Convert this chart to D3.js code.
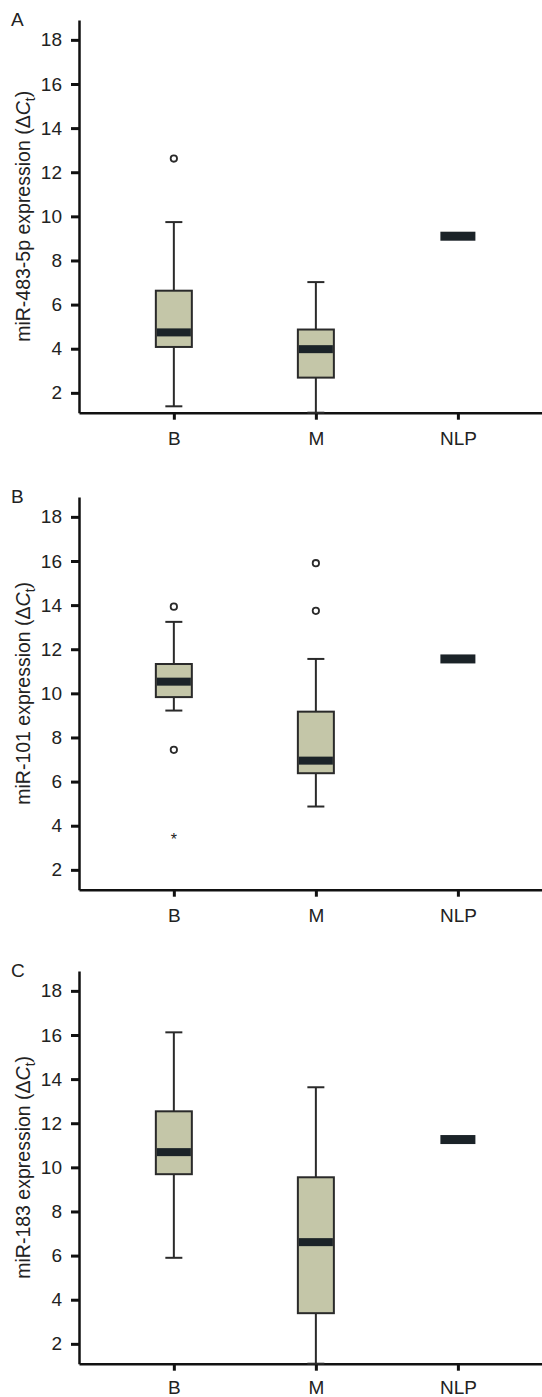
<!DOCTYPE html>
<html>
<head>
<meta charset="utf-8">
<script src="https://cdn.jsdelivr.net/npm/d3@7"></script>
<style>
  body { margin: 0; background: #fff; }
  text { font-family: "Liberation Sans", Arial, sans-serif; fill: #222; }
</style>
</head>
<body>
<svg width="542" height="1397"></svg>
<script>
// groups on the x axis and y tick values (shared by all three panels)
const groups = ["B", "M", "NLP"];
const yTicks = [2, 4, 6, 8, 10, 12, 14, 16, 18];
const panelLetters = ["A", "B", "C"];
const mirNames = ["miR-483-5p", "miR-101", "miR-183"];

// panel A: miR-483-5p
const lo483 = [1.39, 1.1, null];
const q1_483 = [4.08, 2.69, null];
const med483 = [4.74, 3.98, 9.1];
const q3_483 = [6.63, 4.87, null];
const hi483 = [9.74, 7.02, null];
const out483 = [[12.62], [], []];
const ext483 = [[], [], []];

// panel B: miR-101
const lo101 = [9.22, 4.87, null];
const q1_101 = [9.83, 6.38, null];
const med101 = [10.53, 6.95, 11.56];
const q3_101 = [11.33, 9.17, null];
const hi101 = [13.24, 11.56, null];
const out101 = [[13.93, 7.44], [15.9, 13.74], []];
const ext101 = [[3.54], [], []];

// panel C: miR-183
const lo183 = [5.9, 1.1, null];
const q1_183 = [9.69, 3.39, null];
const med183 = [10.69, 6.61, 11.26];
const q3_183 = [12.54, 9.55, null];
const hi183 = [16.12, 13.63, null];
const out183 = [[], [], []];
const ext183 = [[], [], []];

const panels = [
  { lo: lo483, q1: q1_483, med: med483, q3: q3_483, hi: hi483, out: out483, ext: ext483 },
  { lo: lo101, q1: q1_101, med: med101, q3: q3_101, hi: hi101, out: out101, ext: ext101 },
  { lo: lo183, q1: q1_183, med: med183, q3: q3_183, hi: hi183, out: out183, ext: ext183 }
];

const svg = d3.select("svg");
const panelTops = [20, 497, 971];
const labelPad = [12, 12, 10];   // last panel's labels sit right at the page bottom
const plotH = 392.7;
const axisX = 79;

const boxFill = "#c4c6a8";
const ink = "#2a2a2a";
const medColor = "#1b2328";

const x = d3.scalePoint()
  .domain(groups)
  .range([axisX, 542])
  .padding(0.63)
  .align(0.53);

const y = d3.scaleLinear()
  .domain([1.1, 18.9])
  .range([plotH, 0]);

panels.forEach((p, i) => {
  const g = svg.append("g").attr("transform", `translate(0,${panelTops[i]})`);

  // --- axes ---
  const ya = g.append("g")
    .attr("transform", `translate(${axisX},0)`)
    .call(d3.axisLeft(y).tickValues(yTicks).tickSize(8).tickSizeOuter(0).tickPadding(9));
  const xa = g.append("g")
    .attr("transform", `translate(0,${plotH})`)
    .call(d3.axisBottom(x).tickSize(7).tickSizeOuter(0).tickPadding(labelPad[i]));

  [ya, xa].forEach(a => {
    a.select(".domain").attr("stroke", "#111").attr("stroke-width", 2.5);
    a.selectAll(".tick line").attr("stroke", "#111").attr("stroke-width", 3);
    a.selectAll(".tick text")
      .style("font-family", "'Liberation Sans', Arial, sans-serif")
      .style("font-size", "19px")
      .attr("fill", "#222");
  });

  // --- panel letter ---
  g.append("text")
    .attr("x", 11)
    .attr("y", 6)
    .style("font-size", "19px")
    .text(panelLetters[i]);

  // --- y axis title ---
  const t = g.append("text")
    .attr("transform", `translate(30,${plotH / 2}) rotate(-90)`)
    .attr("text-anchor", "middle")
    .style("font-size", "19.5px");
  t.append("tspan").text(`${mirNames[i]} expression (Δ`);
  t.append("tspan").style("font-style", "italic").text("C");
  t.append("tspan").attr("dy", 5).style("font-size", "14px").text("t");
  t.append("tspan").attr("dy", -5).text(")");

  // --- boxes ---
  groups.forEach((grp, j) => {
    const cx = x(grp);
    if (p.q1[j] == null) {
      // single value: draw only the median bar
      g.append("rect")
        .attr("x", cx - 17.5).attr("width", 35)
        .attr("y", y(p.med[j]) - 4.5).attr("height", 9)
        .attr("fill", medColor);
      return;
    }
    // whiskers
    g.append("line")
      .attr("x1", cx).attr("x2", cx)
      .attr("y1", y(p.lo[j])).attr("y2", y(p.hi[j]))
      .attr("stroke", ink).attr("stroke-width", 2);
    [p.lo[j], p.hi[j]].forEach(v => {
      g.append("line")
        .attr("x1", cx - 8.5).attr("x2", cx + 8.5)
        .attr("y1", y(v)).attr("y2", y(v))
        .attr("stroke", ink).attr("stroke-width", 2);
    });
    // box
    g.append("rect")
      .attr("x", cx - 18).attr("width", 36)
      .attr("y", y(p.q3[j])).attr("height", y(p.q1[j]) - y(p.q3[j]))
      .attr("fill", boxFill)
      .attr("stroke", ink).attr("stroke-width", 2);
    // median band
    g.append("rect")
      .attr("x", cx - 17).attr("width", 34)
      .attr("y", y(p.med[j]) - 4).attr("height", 8)
      .attr("fill", medColor);
    // outliers
    p.out[j].forEach(v => {
      g.append("circle")
        .attr("cx", cx).attr("cy", y(v)).attr("r", 3.2)
        .attr("fill", "#fff").attr("stroke", ink).attr("stroke-width", 1.8);
    });
    // extreme values
    p.ext[j].forEach(v => {
      g.append("text")
        .attr("x", cx).attr("y", y(v) + 9)
        .attr("text-anchor", "middle")
        .style("font-size", "16px")
        .text("*");
    });
  });
});
</script>
</body>
</html>
